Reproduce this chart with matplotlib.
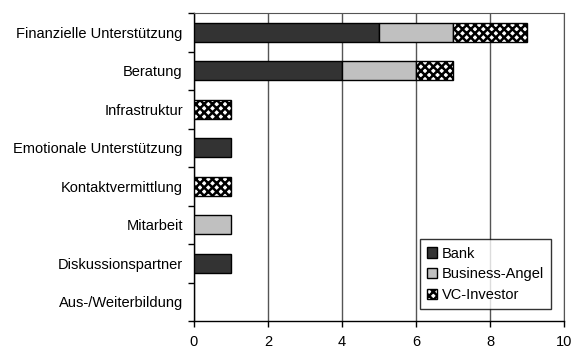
import numpy as np
import matplotlib.pyplot as plt

plt.rcParams["font.family"] = ["Liberation Sans", "DejaVu Sans"]
plt.rcParams["hatch.linewidth"] = 1.8

categories = [
    "Finanzielle Unterstützung",
    "Beratung",
    "Infrastruktur",
    "Emotionale Unterstützung",
    "Kontaktvermittlung",
    "Mitarbeit",
    "Diskussionspartner",
    "Aus-/Weiterbildung",
]
bank = [5, 4, 0, 1, 0, 0, 1, 0]
business_angel = [2, 2, 0, 0, 0, 1, 0, 0]
vc_investor = [2, 1, 1, 0, 1, 0, 0, 0]

series = [
    ("Bank", bank, dict(color="#333333")),
    ("Business-Angel", business_angel, dict(color="#c0c0c0")),
    ("VC-Investor", vc_investor, dict(color="white", hatch="xxxx")),
]

fs = 10.5

fig = plt.figure(figsize=(5.79, 3.52), dpi=100)
ax = fig.add_axes([0.335, 0.088, 0.639, 0.875])

y = np.arange(len(categories))
left = np.zeros(len(categories))
for name, vals, style in series:
    vals = np.array(vals, dtype=float)
    keep = vals > 0
    ax.barh(y[keep], vals[keep], left=left[keep], height=0.5,
            edgecolor="black", linewidth=1.0, label=name, zorder=3, **style)
    left += vals

ax.set_xlim(0, 10)
ax.set_ylim(len(categories) - 0.5, -0.5)
ax.set_xticks([0, 2, 4, 6, 8, 10])
ax.set_yticks(y)
ax.set_yticklabels(categories)
ax.set_yticks(np.arange(-0.5, len(categories), 1), minor=True)
ax.tick_params(axis="y", which="major", length=0, labelsize=fs, pad=8)
ax.tick_params(axis="y", which="minor", length=4, width=1)
ax.tick_params(axis="x", length=4, width=1, labelsize=fs, pad=6)
ax.xaxis.grid(True, color="#555555", linewidth=1.0, zorder=0)
ax.set_axisbelow(True)
for side in ["top", "right"]:
    ax.spines[side].set_color("#555555")
for side in ["left", "bottom"]:
    ax.spines[side].set_linewidth(1.0)

leg = ax.legend(loc="lower right", bbox_to_anchor=(0.985, 0.015), fontsize=fs,
                frameon=True, fancybox=False, edgecolor="black",
                handlelength=0.7, handleheight=0.7, handletextpad=0.3,
                labelspacing=0.45, borderpad=0.5)
leg.get_frame().set_linewidth(1.0)

fig.savefig("out.png", dpi=100)
